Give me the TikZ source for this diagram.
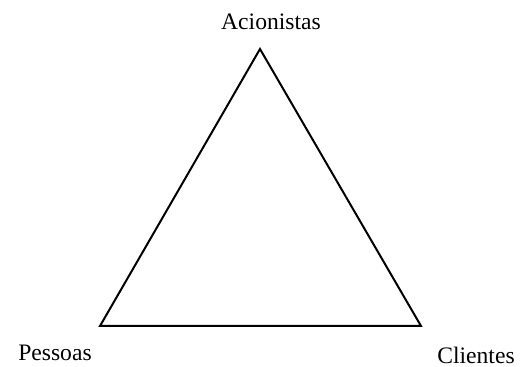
\documentclass[tikz,border=0pt]{standalone}
\usepackage{fontspec}
\setmainfont{Liberation Serif}
\begin{document}
\begin{tikzpicture}[x=0.5pt,y=-0.5pt,
  lbl/.style={anchor=base,inner sep=0pt,text depth=0pt,font=\fontsize{11.8}{14}\selectfont},
  edge/.style={line width=1pt,line join=miter}]
\useasboundingbox (0,0) rectangle (520,367);
\coordinate (top) at (260,49);
\coordinate (bl) at (100,326);
\coordinate (br) at (421,326);
\draw[edge] (top) -- (bl) -- (br) -- cycle;
\node[lbl] (acion) at (271,30) {Acionistas};
\node[lbl] (pess) at (55,361) {Pessoas};
\node[lbl] (cli) at (476,364) {Clientes};
\end{tikzpicture}
\end{document}
